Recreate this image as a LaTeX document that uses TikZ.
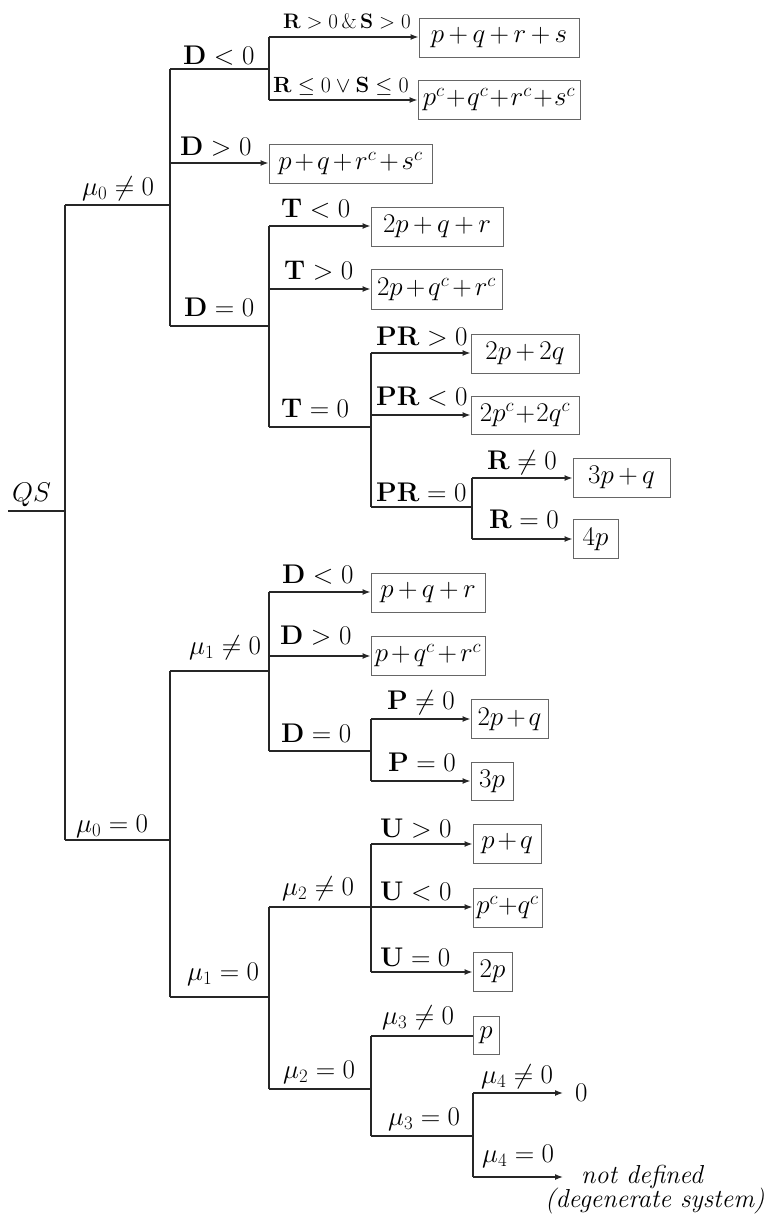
\documentclass[tikz,border=0pt]{standalone}
\usepackage{fix-cm}
\usetikzlibrary{arrows.meta}
\newcommand\fsz{\fontsize{27}{32}\selectfont}
\tikzset{
  ln/.style={line width=1.3pt, draw=black!85},
  arr/.style={ln, -{Latex[length=8pt,width=6pt]}},
  res/.style={draw=black!60, line width=1pt, inner sep=0pt, font=\fsz, execute at begin node={\medmuskip=3mu}},
  tight/.style={execute at begin node={\medmuskip=#1}},
  lab/.style={anchor=base west, inner sep=0pt, font=\fsz},
}
\begin{document}
\begin{tikzpicture}[x=1pt,y=-1pt]
\useasboundingbox (0,0) rectangle (771,1218);
% result boxes
\node[res, minimum width=160pt, minimum height=39pt] (b1) at (499,37.5) {$p+q+r+s$};
\node[res, minimum width=162pt, minimum height=39pt, tight=1mu] (b2) at (499,99.5) {$p^c+q^c+r^c+s^c$};
\node[res, minimum width=163pt, minimum height=39pt, tight=2mu] (b3) at (350.5,163.5) {$p+q+r^c+s^c$};
\node[res, minimum width=132pt, minimum height=39pt] (b4) at (437,226.5) {$2p+q+r$};
\node[res, minimum width=131pt, minimum height=40pt, tight=2mu] (b5) at (436.5,289.5) {$2p+q^c+r^c$};
\node[res, minimum width=108pt, minimum height=39pt] (b6) at (525,353.5) {$2p+2q$};
\node[res, minimum width=108pt, minimum height=38pt, tight=1mu] (b7) at (525,415) {$2p^c+2q^c$};
\node[res, minimum width=97pt, minimum height=39pt] (b8) at (621.5,477.5) {$3p+q$};
\node[res, minimum width=45pt, minimum height=39pt] (b9) at (595.5,539) {$4p$};
\node[res, minimum width=114pt, minimum height=39pt] (b10) at (428,592.5) {$p+q+r$};
\node[res, minimum width=114pt, minimum height=39pt, tight=2mu] (b11) at (428,655.5) {$p+q^c+r^c$};
\node[res, minimum width=77pt, minimum height=39pt, tight=2mu] (b12) at (509.5,719) {$2p+q$};
\node[res, minimum width=42pt, minimum height=38pt] (b13) at (492,781) {$3p$};
\node[res, minimum width=68pt, minimum height=39pt, tight=2mu] (b14) at (507,843.5) {$p+q$};
\node[res, minimum width=69pt, minimum height=39pt, tight=0mu] (b15) at (507.5,907.5) {$p^c+q^c$};
\node[res, minimum width=39pt, minimum height=39pt] (b16) at (492.5,971.5) {$2p$};
\node[res, minimum width=26pt, minimum height=38pt] (b17) at (486,1035.5) {$p$};
\node[anchor=west, inner xsep=12pt, inner ysep=0pt, font=\fsz] (r0) at (563,1093) {$0$};
\node[anchor=base west, inner xsep=18pt, inner ysep=0pt, font=\fontsize{26}{31}\selectfont\itshape] (nd1) at (563,1183) {not defined};
\node[anchor=base west, inner sep=0pt, font=\fontsize{26}{31}\selectfont\itshape] (nd2) at (545,1207) {(degenerate system)};
% junction coordinates
\coordinate (qs) at (8,511);
\coordinate (j0m) at (65,511); \coordinate (j0t) at (65,205); \coordinate (j0b) at (65,840);
\coordinate (j1a) at (170,69); \coordinate (j1b) at (170,163); \coordinate (j1m) at (170,205); \coordinate (j1c) at (170,326);
\coordinate (j2m) at (269,69); \coordinate (j2a) at (269,37); \coordinate (j2b) at (269,100);
\coordinate (j3m) at (269,326); \coordinate (j3a) at (269,226); \coordinate (j3b) at (269,289); \coordinate (j3c) at (269,427);
\coordinate (j4m) at (371,427); \coordinate (j4a) at (371,353); \coordinate (j4b) at (371,415); \coordinate (j4c) at (371,507);
\coordinate (j5m) at (472,507); \coordinate (j5a) at (472,478); \coordinate (j5b) at (472,539);
\coordinate (j6m) at (170,840); \coordinate (j6a) at (170,671); \coordinate (j6b) at (170,997);
\coordinate (j7m) at (269,671); \coordinate (j7a) at (269,592); \coordinate (j7b) at (269,656); \coordinate (j7c) at (269,751);
\coordinate (j8m) at (371,751); \coordinate (j8a) at (371,719); \coordinate (j8b) at (371,781);
\coordinate (j9m) at (269,997); \coordinate (j9a) at (269,907); \coordinate (j9b) at (269,1089);
\coordinate (j10m) at (371,907); \coordinate (j10a) at (371,844); \coordinate (j10c) at (371,972);
\coordinate (j11m) at (371,1089); \coordinate (j11a) at (371,1036); \coordinate (j11b) at (371,1136);
\coordinate (j12m) at (473,1136); \coordinate (j12a) at (473,1093); \coordinate (j12b) at (473,1177);
% connectors
\draw[ln] (qs) -- (j0m);
\draw[ln] (j0t) -- (j0b);
\draw[ln] (j0t) -- (j1m);
\draw[ln] (j1a) -- (j1c);
\draw[ln] (j1a) -- (j2m);
\draw[ln] (j2a) -- (j2b);
\draw[arr] (j2a) -- (j2a -| b1.west);
\draw[arr] (j2b) -- (j2b -| b2.west);
\draw[arr] (j1b) -- (j1b -| b3.west);
\draw[ln] (j1c) -- (j3m);
\draw[ln] (j3a) -- (j3c);
\draw[arr] (j3a) -- (j3a -| b4.west);
\draw[arr] (j3b) -- (j3b -| b5.west);
\draw[ln] (j3c) -- (j4m);
\draw[ln] (j4a) -- (j4c);
\draw[arr] (j4a) -- (j4a -| b6.west);
\draw[arr] (j4b) -- (j4b -| b7.west);
\draw[ln] (j4c) -- (j5m);
\draw[ln] (j5a) -- (j5b);
\draw[arr] (j5a) -- (j5a -| b8.west);
\draw[arr] (j5b) -- (j5b -| b9.west);
\draw[ln] (j0b) -- (j6m);
\draw[ln] (j6a) -- (j6b);
\draw[ln] (j6a) -- (j7m);
\draw[ln] (j7a) -- (j7c);
\draw[arr] (j7a) -- (j7a -| b10.west);
\draw[arr] (j7b) -- (j7b -| b11.west);
\draw[ln] (j7c) -- (j8m);
\draw[ln] (j8a) -- (j8b);
\draw[arr] (j8a) -- (j8a -| b12.west);
\draw[arr] (j8b) -- (j8b -| b13.west);
\draw[ln] (j6b) -- (j9m);
\draw[ln] (j9a) -- (j9b);
\draw[ln] (j9a) -- (j10m);
\draw[ln] (j10a) -- (j10c);
\draw[arr] (j10a) -- (j10a -| b14.west);
\draw[arr] (j10m) -- (j10m -| b15.west);
\draw[arr] (j10c) -- (j10c -| b16.west);
\draw[ln] (j9b) -- (j11m);
\draw[ln] (j11a) -- (j11b);
\draw[ln] (j11a) -- (j11a -| b17.west);
\draw[ln] (j11b) -- (j12m);
\draw[ln] (j12a) -- (j12b);
\draw[arr] (j12a) -- (j12a -| r0.west);
\draw[arr] (j12b) -- (j12b -| nd1.west);
% labels
\node[lab] (lqs) at (12,501) {$QS$};
\node[lab] (l1) at (82,195) {$\mu_0\neq0$};
\node[lab] (l2) at (183,64) {$\mathbf{D}<0$};
\node[lab] (l3) at (180,155) {$\mathbf{D}>0$};
\node[lab] (l4) at (184,316) {$\mathbf{D}=0$};
\node[lab, font=\fontsize{21}{25}\selectfont] (l5) at (283,28) {$\mathbf{R}>0\,\&\,\mathbf{S}>0$};
\node[lab, font=\fontsize{22}{26}\selectfont] (l6) at (273,92) {$\mathbf{R}\le0\vee\mathbf{S}\le0$};
\node[lab] (l7) at (281,217) {$\mathbf{T}<0$};
\node[lab] (l8) at (284,279) {$\mathbf{T}>0$};
\node[lab] (l9) at (281,417) {$\mathbf{T}=0$};
\node[lab, tight=2mu] (l10) at (376,345) {$\mathbf{PR}>0$};
\node[lab, tight=2mu] (l11) at (376,405) {$\mathbf{PR}<0$};
\node[lab, tight=2mu] (l12) at (376,501) {$\mathbf{PR}=0$};
\node[lab] (l13) at (487,469) {$\mathbf{R}\neq0$};
\node[lab] (l14) at (489,528) {$\mathbf{R}=0$};
\node[lab] (l15) at (76,832) {$\mu_0=0$};
\node[lab] (l16) at (189,654) {$\mu_1\neq0$};
\node[lab] (l17) at (282,583) {$\mathbf{D}<0$};
\node[lab] (l18) at (280,644) {$\mathbf{D}>0$};
\node[lab] (l19) at (281,742) {$\mathbf{D}=0$};
\node[lab] (l20) at (387,709) {$\mathbf{P}\neq0$};
\node[lab] (l21) at (388,771) {$\mathbf{P}=0$};
\node[lab] (l22) at (380,837) {$\mathbf{U}>0$};
\node[lab] (l23) at (380,900) {$\mathbf{U}<0$};
\node[lab] (l24) at (380,966) {$\mathbf{U}=0$};
\node[lab] (l25) at (282,895) {$\mu_2\neq0$};
\node[lab] (l26) at (187,980) {$\mu_1=0$};
\node[lab] (l27) at (382,1024) {$\mu_3\neq0$};
\node[lab] (l28) at (283,1078) {$\mu_2=0$};
\node[lab] (l29) at (481,1083) {$\mu_4\neq0$};
\node[lab] (l30) at (388,1125) {$\mu_3=0$};
\node[lab] (l31) at (482,1162) {$\mu_4=0$};
\end{tikzpicture}
\end{document}
